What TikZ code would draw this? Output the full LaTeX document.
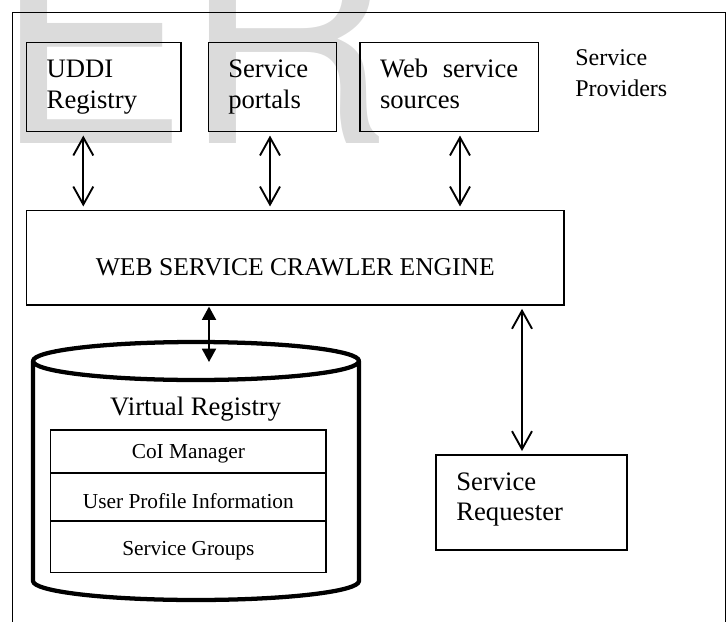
\documentclass[tikz,border=0pt]{standalone}
\usepackage{fontspec}
\setmainfont{Liberation Serif}
\newfontfamily\wmfont{TeX Gyre Heros}
\usetikzlibrary{arrows.meta}
\definecolor{wm}{gray}{0.86}
\newcommand\boxfont{\fontsize{20pt}{23.25pt}\selectfont}
\newcommand\reqfont{\fontsize{20pt}{22.5pt}\selectfont}
\newcommand\provfont{\fontsize{18pt}{23.25pt}\selectfont}
\newcommand\crawlfont{\fontsize{19.2pt}{22pt}\selectfont}
\newcommand\vrfont{\fontsize{20pt}{23pt}\selectfont}
\newcommand\rowfont{\fontsize{16pt}{18pt}\selectfont}
\tikzset{
  box/.style={draw, line width=0.8pt, rectangle, inner ysep=0pt, align=left, font=\boxfont},
  dblopen/.style={line width=1.4pt, {Straight Barb[length=13.5pt,width=15pt]}-{Straight Barb[length=13.5pt,width=15pt]}},
  dblfill/.style={line width=1.4pt, {Triangle[length=10pt,width=10.5pt]}-{Triangle[length=10pt,width=10.5pt]}},
  row/.style={draw, line width=1.2pt, minimum width=206.5pt, inner sep=0pt, font=\rowfont},
  wmark/.style={text=wm, inner sep=0pt, anchor=base west, font=\wmfont\fontsize{217.5pt}{217.5pt}\selectfont},
  cyl/.style={line width=3.2pt, line join=round},
}
\begin{document}
\begin{tikzpicture}[x=0.75pt, y=-0.75pt]
\useasboundingbox (0,0) rectangle (728,621);
\clip (0,0) rectangle (728,621);
% watermark
\node[wmark] (wmE) at (-5.9,143) {E};
\node[wmark] (wmR) at (182.5,143) {R};
% outer frame
\draw[line width=1pt] (12.3,625) -- (12.3,12.3) -- (725.7,12.3) -- (725.7,625);
% providers
\node[box, minimum width=115.7pt, minimum height=66.75pt, text width=85.7pt, inner xsep=15pt] (uddi) at (103.85,87.2) {\strut UDDI\\\strut Registry};
\node[box, minimum width=96.3pt, minimum height=66.75pt, text width=66.3pt, inner xsep=15pt] (portals) at (272.5,87.2) {\strut Service\\\strut portals};
\node[box, minimum width=133.7pt, minimum height=66.75pt, text width=103.7pt, inner xsep=15pt] (web) at (449.15,87.2) {\strut Web\hfill service\\\strut sources};
\node[anchor=base west, text width=110pt, align=left, font=\provfont, inner sep=0pt] (prov) at (575,65.7) {Service\\Providers};
% crawler
\node[draw, line width=0.8pt, minimum width=403pt, minimum height=70.7pt, inner sep=0pt, font=\crawlfont] (crawler) at (295.35,257.85) {\raisebox{-13.6pt}[0pt][0pt]{WEB SERVICE CRAWLER ENGINE}};
% arrows providers <-> crawler
\draw[dblopen, shorten <=2.5pt, shorten >=2.8pt] (83.3,0 |- uddi.south) -- (83.3,0 |- crawler.north);
\draw[dblopen, shorten <=2.5pt, shorten >=2.8pt] (270,0 |- portals.south) -- (270,0 |- crawler.north);
\draw[dblopen, shorten <=2.5pt, shorten >=2.8pt] (460,0 |- web.south) -- (460,0 |- crawler.north);
% cylinder (virtual registry)
\draw[cyl] (196,361) ellipse [x radius=163, y radius=19];
\draw[cyl] (33,361) -- (33,581) arc[start angle=180, end angle=0, x radius=163, y radius=19] -- (359,361);
\coordinate (cyltop) at (209,362);
\node[anchor=base, font=\vrfont, inner sep=0pt] (vr) at (195.7,415) {Virtual Registry};
\node[row, minimum height=32pt] (r1) at (188.35,451.35) {\raisebox{-5.25pt}[0pt][0pt]{CoI Manager}};
\node[row, minimum height=36.2pt] (r2) at (188.35,496.85) {\raisebox{-8.6pt}[0pt][0pt]{User Profile Information}};
\node[row, minimum height=38.5pt] (r3) at (188.35,546.65) {\raisebox{-7pt}[0pt][0pt]{Service Groups}};
\draw[dblfill, shorten <=0.8pt] (209,0 |- crawler.south) -- (cyltop);
% requester
\node[box, line width=1.3pt, minimum width=143pt, minimum height=71.25pt, text width=112.5pt, inner xsep=15.25pt, font=\reqfont] (req) at (531.35,502.5) {\rule{0pt}{12.75pt}Service\\Requester\rule[-9pt]{0pt}{9pt}};
\draw[dblopen, shorten <=2.5pt, shorten >=2.3pt] (522,0 |- crawler.south) -- (522,0 |- req.north);
\end{tikzpicture}
\end{document}
